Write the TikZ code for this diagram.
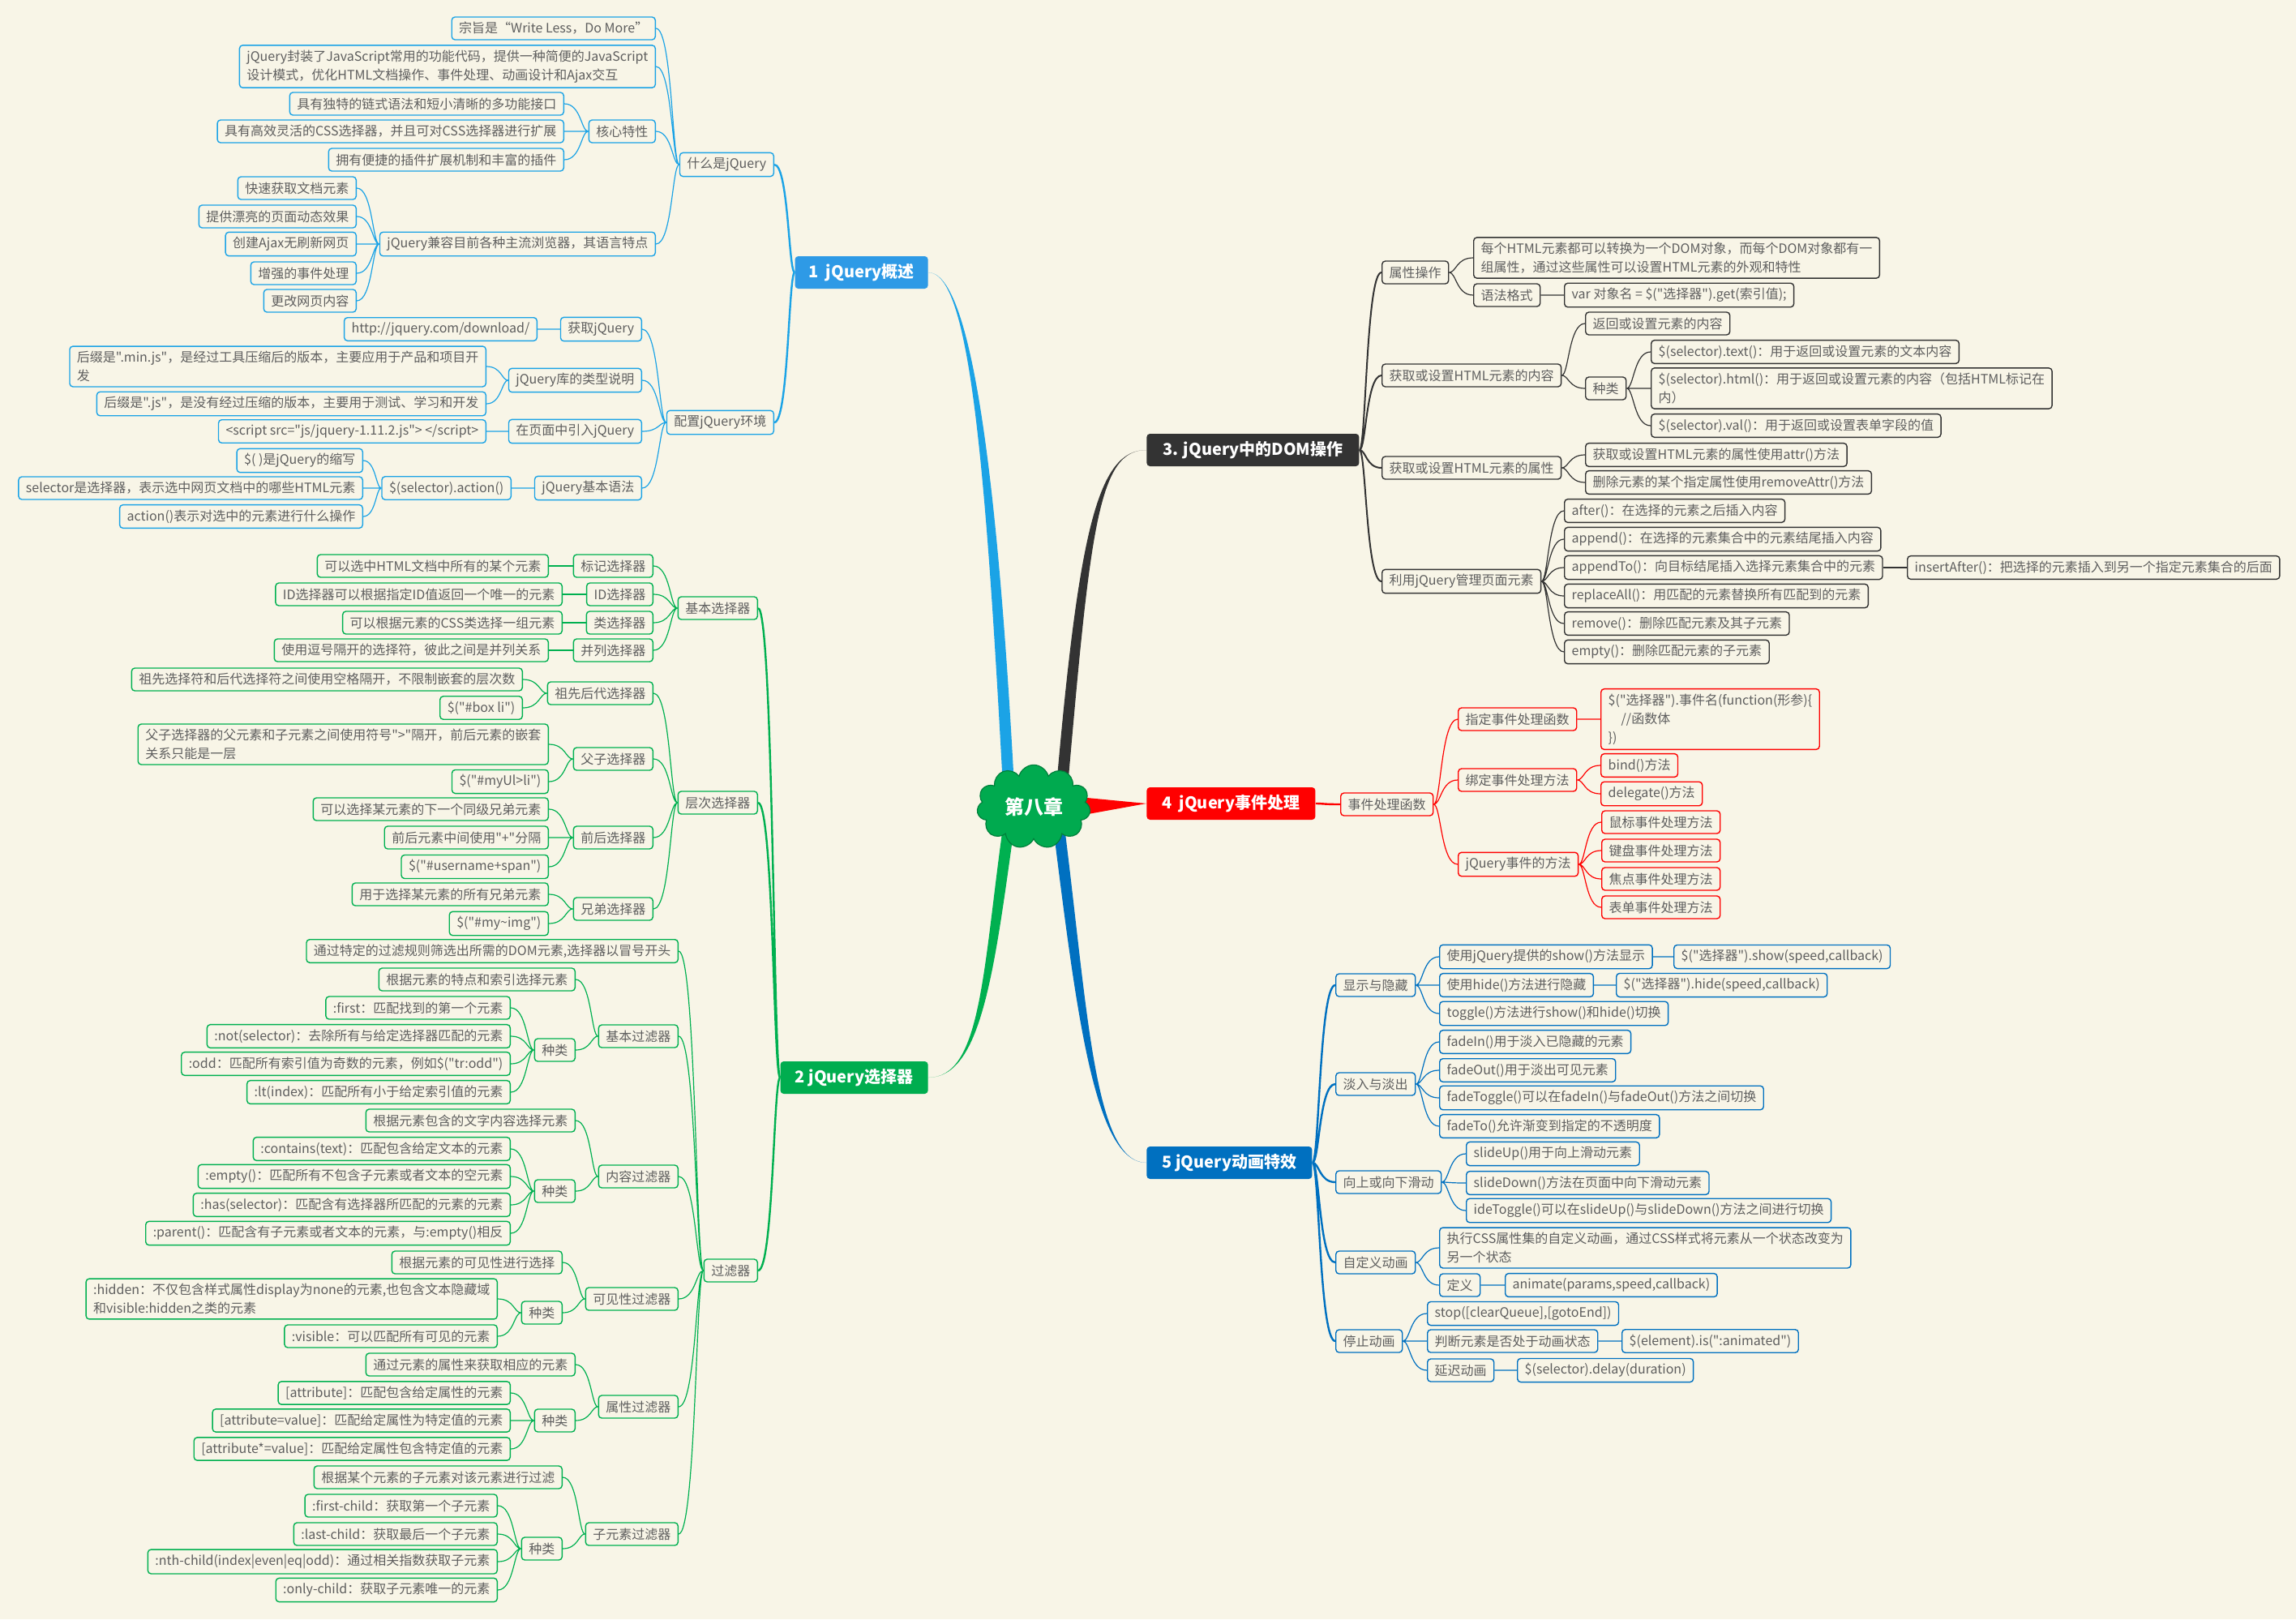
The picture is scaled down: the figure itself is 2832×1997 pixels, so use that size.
\documentclass[tikz,border=0pt]{standalone}
\usepackage{fontspec}
\setmainfont{Noto Sans CJK SC}[Ligatures=TeXOff]
\usepackage{tikz}
\usetikzlibrary{calc,shapes.symbols}

\definecolor{bg}{HTML}{F8F5E7}
\definecolor{txt}{HTML}{5E5E5E}
\definecolor{c1}{HTML}{1BA3E6}
\definecolor{f1}{HTML}{2E9AE6}
\definecolor{c2}{HTML}{00B050}
\definecolor{f2}{HTML}{00AD4F}
\definecolor{c3}{HTML}{333333}
\definecolor{c4}{HTML}{FF0000}
\definecolor{c5}{HTML}{0070C0}
\definecolor{cr}{HTML}{00AA4F}

\begin{document}
\begin{tikzpicture}[x=0.5pt, y=-0.5pt,
    leaf/.style={draw, rounded corners=2pt, line width=0.7pt, text=txt,
        font=\fontsize{8}{11.5}\selectfont, align=left,
        inner xsep=4.5pt, inner ysep=3pt, minimum height=14pt},
    l1/.style={leaf, draw=c1}, l2/.style={leaf, draw=c2}, l3/.style={leaf, draw=c3},
    l4/.style={leaf, draw=c4}, l5/.style={leaf, draw=c5},
    topic/.style={rounded corners=2pt, text=white, font=\fontsize{10}{12}\selectfont\bfseries,
        minimum height=20pt, inner xsep=6pt},
    link/.style={to path={let \p1=(\tikztostart), \p2=(\tikztotarget) in
        .. controls ({\x1+0.3*(\x2-\x1)},\y1) and ({\x1+0.3*(\x2-\x1)},\y2) .. (\tikztotarget)}},
    k1/.style={link, draw=c1, line width=0.6pt}, kk1/.style={k1, line width=1.2pt},
    k2/.style={link, draw=c2, line width=0.6pt}, kk2/.style={k2, line width=1.2pt},
    k3/.style={link, draw=c3, line width=0.6pt}, kk3/.style={k3, line width=1pt},
    k4/.style={link, draw=c4, line width=0.6pt}, kk4/.style={k4, line width=1.2pt},
    k5/.style={link, draw=c5, line width=0.6pt}, kk5/.style={k5, line width=1.2pt}]

    \fill[bg] (0,0) rectangle (2832,1997);
    \useasboundingbox (0,0) rectangle (2832,1997);

    % main topics
    \coordinate (rc) at (1275,995);
    \node[topic, fill=f1, anchor=east, minimum width=82pt] (m1) at (1145,336) {1\ \ jQuery概述};
    \node[topic, fill=f2, anchor=east, minimum width=91pt] (m2) at (1145,1329) {2 jQuery选择器};
    \node[topic, fill=c3, anchor=west, minimum width=131pt] (m3) at (1414,555) {3. jQuery中的DOM操作};
    \node[topic, fill=c4, anchor=west, minimum width=104pt] (m4) at (1414,991) {4\ \ jQuery事件处理};
    \node[topic, fill=c5, anchor=west, minimum width=102pt] (m5) at (1414,1434) {5 jQuery动画特效};

    % 1 jQuery概述
    \node[l1, anchor=east] (a1) at (955,203) {什么是jQuery};
    \node[l1, anchor=east] (a11) at (809,35) {宗旨是“Write Less，Do More”};
    \node[l1, anchor=east] (a12) at (809,82) {jQuery封装了JavaScript常用的功能代码，提供一种简便的JavaScript\\设计模式，优化HTML文档操作、事件处理、动画设计和Ajax交互};
    \node[l1, anchor=east] (a13) at (809,162) {核心特性};
    \node[l1, anchor=east] (a131) at (696,128) {具有独特的链式语法和短小清晰的多功能接口};
    \node[l1, anchor=east] (a132) at (696,162) {具有高效灵活的CSS选择器，并且可对CSS选择器进行扩展};
    \node[l1, anchor=east] (a133) at (696,197) {拥有便捷的插件扩展机制和丰富的插件};
    \node[l1, anchor=east] (a14) at (809,301) {jQuery兼容目前各种主流浏览器，其语言特点};
    \node[l1, anchor=east] (a141) at (440,232) {快速获取文档元素};
    \node[l1, anchor=east] (a142) at (440,267) {提供漂亮的页面动态效果};
    \node[l1, anchor=east] (a143) at (440,301) {创建Ajax无刷新网页};
    \node[l1, anchor=east] (a144) at (440,337) {增强的事件处理};
    \node[l1, anchor=east] (a145) at (440,371) {更改网页内容};

    \node[l1, anchor=east] (b1) at (955,521) {配置jQuery环境};
    \node[l1, anchor=east] (b11) at (792,406) {获取jQuery};
    \node[l1, anchor=east] (b111) at (663,406) {http://jquery.com/download/};
    \node[l1, anchor=east] (b12) at (792,469) {jQuery库的类型说明};
    \node[l1, anchor=east] (b121) at (600,452) {后缀是".min.js"，是经过工具压缩后的版本，主要应用于产品和项目开\\发};
    \node[l1, anchor=east] (b122) at (600,498) {后缀是".js"，是没有经过压缩的版本，主要用于测试、学习和开发};
    \node[l1, anchor=east] (b13) at (792,532) {在页面中引入jQuery};
    \node[l1, anchor=east] (b131) at (600,532) {<script src="js/jquery-1.11.2.js"> </script>};
    \node[l1, anchor=east] (b14) at (792,602) {jQuery基本语法};
    \node[l1, anchor=east] (b141) at (631,602) {\$(selector).action()};
    \node[l1, anchor=east] (b1411) at (448,568) {\$( )是jQuery的缩写};
    \node[l1, anchor=east] (b1412) at (448,602) {selector是选择器，表示选中网页文档中的哪些HTML元素};
    \node[l1, anchor=east] (b1413) at (448,637) {action()表示对选中的元素进行什么操作};

    % 2 jQuery选择器
    \node[l2, anchor=east] (s1) at (935,750) {基本选择器};
    \node[l2, anchor=east] (s11) at (806,698) {标记选择器};
    \node[l2, anchor=east] (s111) at (677,698) {可以选中HTML文档中所有的某个元素};
    \node[l2, anchor=east] (s12) at (806,733) {ID选择器};
    \node[l2, anchor=east] (s121) at (694,733) {ID选择器可以根据指定ID值返回一个唯一的元素};
    \node[l2, anchor=east] (s13) at (806,768) {类选择器};
    \node[l2, anchor=east] (s131) at (694,768) {可以根据元素的CSS类选择一组元素};
    \node[l2, anchor=east] (s14) at (806,802) {并列选择器};
    \node[l2, anchor=east] (s141) at (677,802) {使用逗号隔开的选择符，彼此之间是并列关系};

    \node[l2, anchor=east] (s2) at (935,990) {层次选择器};
    \node[l2, anchor=east] (s21) at (806,855) {祖先后代选择器};
    \node[l2, anchor=east] (s211) at (645,838) {祖先选择符和后代选择符之间使用空格隔开，不限制嵌套的层次数};
    \node[l2, anchor=east] (s212) at (645,873) {\$("\#box li")};
    \node[l2, anchor=east] (s22) at (806,936) {父子选择器};
    \node[l2, anchor=east] (s221) at (677,918) {父子选择器的父元素和子元素之间使用符号">"隔开，前后元素的嵌套\\关系只能是一层};
    \node[l2, anchor=east] (s222) at (677,964) {\$("\#myUl>li")};
    \node[l2, anchor=east] (s23) at (806,1033) {前后选择器};
    \node[l2, anchor=east] (s231) at (677,998) {可以选择某元素的下一个同级兄弟元素};
    \node[l2, anchor=east] (s232) at (677,1033) {前后元素中间使用"+"分隔};
    \node[l2, anchor=east] (s233) at (677,1069) {\$("\#username+span")};
    \node[l2, anchor=east] (s24) at (806,1121) {兄弟选择器};
    \node[l2, anchor=east] (s241) at (677,1103) {用于选择某元素的所有兄弟元素};
    \node[l2, anchor=east] (s242) at (677,1139) {\$("\#my\textasciitilde img")};

    \node[l2, anchor=east] (s3) at (935,1567) {过滤器};
    \node[l2, anchor=east] (s31) at (837,1173) {通过特定的过滤规则筛选出所需的DOM元素,选择器以冒号开头};
    \node[l2, anchor=east] (s32) at (837,1278) {基本过滤器};
    \node[l2, anchor=east] (s321) at (710,1208) {根据元素的特点和索引选择元素};
    \node[l2, anchor=east] (s322) at (710,1295) {种类};
    \node[l2, anchor=east] (s3221) at (630,1243) {:first：匹配找到的第一个元素};
    \node[l2, anchor=east] (s3222) at (630,1278) {:not(selector)：去除所有与给定选择器匹配的元素};
    \node[l2, anchor=east] (s3223) at (630,1312) {:odd：匹配所有索引值为奇数的元素，例如\$("tr:odd")};
    \node[l2, anchor=east] (s3224) at (630,1347) {:lt(index)：匹配所有小于给定索引值的元素};
    \node[l2, anchor=east] (s33) at (837,1451) {内容过滤器};
    \node[l2, anchor=east] (s331) at (710,1382) {根据元素包含的文字内容选择元素};
    \node[l2, anchor=east] (s332) at (710,1469) {种类};
    \node[l2, anchor=east] (s3321) at (630,1417) {:contains(text)：匹配包含给定文本的元素};
    \node[l2, anchor=east] (s3322) at (630,1451) {:empty()：匹配所有不包含子元素或者文本的空元素};
    \node[l2, anchor=east] (s3323) at (630,1486) {:has(selector)：匹配含有选择器所匹配的元素的元素};
    \node[l2, anchor=east] (s3324) at (630,1521) {:parent()：匹配含有子元素或者文本的元素，与:empty()相反};
    \node[l2, anchor=east] (s34) at (837,1602) {可见性过滤器};
    \node[l2, anchor=east] (s341) at (694,1557) {根据元素的可见性进行选择};
    \node[l2, anchor=east] (s342) at (694,1619) {种类};
    \node[l2, anchor=east] (s3421) at (614,1602) {:hidden：不仅包含样式属性display为none的元素,也包含文本隐藏域\\和visible:hidden之类的元素};
    \node[l2, anchor=east] (s3422) at (614,1648) {:visible：可以匹配所有可见的元素};
    \node[l2, anchor=east] (s35) at (837,1735) {属性过滤器};
    \node[l2, anchor=east] (s351) at (710,1683) {通过元素的属性来获取相应的元素};
    \node[l2, anchor=east] (s352) at (710,1752) {种类};
    \node[l2, anchor=east] (s3521) at (630,1718) {[attribute]：匹配包含给定属性的元素};
    \node[l2, anchor=east] (s3522) at (630,1752) {[attribute=value]：匹配给定属性为特定值的元素};
    \node[l2, anchor=east] (s3523) at (630,1787) {[attribute*=value]：匹配给定属性包含特定值的元素};
    \node[l2, anchor=east] (s36) at (837,1892) {子元素过滤器};
    \node[l2, anchor=east] (s361) at (694,1822) {根据某个元素的子元素对该元素进行过滤};
    \node[l2, anchor=east] (s362) at (694,1910) {种类};
    \node[l2, anchor=east] (s3621) at (614,1857) {:first-child：获取第一个子元素};
    \node[l2, anchor=east] (s3622) at (614,1892) {:last-child：获取最后一个子元素};
    \node[l2, anchor=east] (s3623) at (614,1926) {:nth-child(index|even|eq|odd)：通过相关指数获取子元素};
    \node[l2, anchor=east] (s3624) at (614,1961) {:only-child：获取子元素唯一的元素};

    % 3 DOM操作
    \node[l3, anchor=west] (d1) at (1704,336) {属性操作};
    \node[l3, anchor=west] (d11) at (1817,318) {每个HTML元素都可以转换为一个DOM对象，而每个DOM对象都有一\\组属性，通过这些属性可以设置HTML元素的外观和特性};
    \node[l3, anchor=west] (d12) at (1817,364) {语法格式};
    \node[l3, anchor=west] (d121) at (1929,364) {var 对象名 = \$("选择器").get(索引值);};
    \node[l3, anchor=west] (d2) at (1704,463) {获取或设置HTML元素的内容};
    \node[l3, anchor=west] (d21) at (1955,399) {返回或设置元素的内容};
    \node[l3, anchor=west] (d22) at (1955,479) {种类};
    \node[l3, anchor=west] (d221) at (2036,434) {\$(selector).text()：用于返回或设置元素的文本内容};
    \node[l3, anchor=west] (d222) at (2036,479) {\$(selector).html()：用于返回或设置元素的内容（包括HTML标记在\\内）};
    \node[l3, anchor=west] (d223) at (2036,525) {\$(selector).val()：用于返回或设置表单字段的值};
    \node[l3, anchor=west] (d3) at (1704,577) {获取或设置HTML元素的属性};
    \node[l3, anchor=west] (d31) at (1955,561) {获取或设置HTML元素的属性使用attr()方法};
    \node[l3, anchor=west] (d32) at (1955,595) {删除元素的某个指定属性使用removeAttr()方法};
    \node[l3, anchor=west] (d4) at (1704,717) {利用jQuery管理页面元素};
    \node[l3, anchor=west] (d41) at (1929,630) {after()：在选择的元素之后插入内容};
    \node[l3, anchor=west] (d42) at (1929,665) {append()：在选择的元素集合中的元素结尾插入内容};
    \node[l3, anchor=west] (d43) at (1929,700) {appendTo()：向目标结尾插入选择元素集合中的元素};
    \node[l3, anchor=west] (d431) at (2352,700) {insertAfter()：把选择的元素插入到另一个指定元素集合的后面};
    \node[l3, anchor=west] (d44) at (1929,735) {replaceAll()：用匹配的元素替换所有匹配到的元素};
    \node[l3, anchor=west] (d45) at (1929,769) {remove()：删除匹配元素及其子元素};
    \node[l3, anchor=west] (d46) at (1929,804) {empty()：删除匹配元素的子元素};

    % 4 事件处理
    \node[l4, anchor=west] (e1) at (1653,992) {事件处理函数};
    \node[l4, anchor=west] (e11) at (1798,887) {指定事件处理函数};
    \node[l4, anchor=west] (e111) at (1974,887) {\$("选择器").事件名(function(形参)\{\\\quad//函数体\\\})};
    \node[l4, anchor=west] (e12) at (1798,962) {绑定事件处理方法};
    \node[l4, anchor=west] (e121) at (1974,944) {bind()方法};
    \node[l4, anchor=west] (e122) at (1974,979) {delegate()方法};
    \node[l4, anchor=west] (e13) at (1798,1066) {jQuery事件的方法};
    \node[l4, anchor=west] (e131) at (1975,1014) {鼠标事件处理方法};
    \node[l4, anchor=west] (e132) at (1975,1049) {键盘事件处理方法};
    \node[l4, anchor=west] (e133) at (1975,1084) {焦点事件处理方法};
    \node[l4, anchor=west] (e134) at (1975,1119) {表单事件处理方法};

    % 5 动画特效
    \node[l5, anchor=west] (f1) at (1647,1215) {显示与隐藏};
    \node[l5, anchor=west] (f11) at (1775,1180) {使用jQuery提供的show()方法显示};
    \node[l5, anchor=west] (f111) at (2064,1180) {\$("选择器").show(speed,callback)};
    \node[l5, anchor=west] (f12) at (1775,1215) {使用hide()方法进行隐藏};
    \node[l5, anchor=west] (f121) at (1993,1215) {\$("选择器").hide(speed,callback)};
    \node[l5, anchor=west] (f13) at (1775,1250) {toggle()方法进行show()和hide()切换};
    \node[l5, anchor=west] (f2) at (1647,1337) {淡入与淡出};
    \node[l5, anchor=west] (f21) at (1775,1285) {fadeIn()用于淡入已隐藏的元素};
    \node[l5, anchor=west] (f22) at (1775,1320) {fadeOut()用于淡出可见元素};
    \node[l5, anchor=west] (f23) at (1775,1354) {fadeToggle()可以在fadeIn()与fadeOut()方法之间切换};
    \node[l5, anchor=west] (f24) at (1775,1389) {fadeTo()允许渐变到指定的不透明度};
    \node[l5, anchor=west] (f3) at (1647,1458) {向上或向下滑动};
    \node[l5, anchor=west] (f31) at (1808,1423) {slideUp()用于向上滑动元素};
    \node[l5, anchor=west] (f32) at (1808,1459) {slideDown()方法在页面中向下滑动元素};
    \node[l5, anchor=west] (f33) at (1808,1493) {ideToggle()可以在slideUp()与slideDown()方法之间进行切换};
    \node[l5, anchor=west] (f4) at (1647,1557) {自定义动画};
    \node[l5, anchor=west] (f41) at (1775,1539) {执行CSS属性集的自定义动画，通过CSS样式将元素从一个状态改变为\\另一个状态};
    \node[l5, anchor=west] (f42) at (1775,1585) {定义};
    \node[l5, anchor=west] (f421) at (1856,1585) {animate(params,speed,callback)};
    \node[l5, anchor=west] (f5) at (1647,1654) {停止动画};
    \node[l5, anchor=west] (f51) at (1760,1620) {stop([clearQueue],[gotoEnd])};
    \node[l5, anchor=west] (f52) at (1760,1654) {判断元素是否处于动画状态};
    \node[l5, anchor=west] (f521) at (2000,1654) {\$(element).is(":animated")};
    \node[l5, anchor=west] (f53) at (1760,1690) {延迟动画};
    \node[l5, anchor=west] (f531) at (1871,1690) {\$(selector).delay(duration)};

    % connectors, branch 1
    \draw[kk1] (m1.west) to (a1.east) (m1.west) to (b1.east);
    \draw[k1] (a1.west) to (a11.east) (a1.west) to (a12.east) (a1.west) to (a13.east) (a1.west) to (a14.east);
    \draw[k1] (a13.west) to (a131.east) (a13.west) to (a132.east) (a13.west) to (a133.east);
    \draw[k1] (a14.west) to (a141.east) (a14.west) to (a142.east) (a14.west) to (a143.east)
        (a14.west) to (a144.east) (a14.west) to (a145.east);
    \draw[k1] (b1.west) to (b11.east) (b1.west) to (b12.east) (b1.west) to (b13.east) (b1.west) to (b14.east);
    \draw[k1] (b11.west) to (b111.east) (b12.west) to (b121.east) (b12.west) to (b122.east)
        (b13.west) to (b131.east) (b14.west) to (b141.east);
    \draw[k1] (b141.west) to (b1411.east) (b141.west) to (b1412.east) (b141.west) to (b1413.east);

    % connectors, branch 2
    \draw[kk2] (m2.west) to (s1.east) (m2.west) to (s2.east) (m2.west) to (s3.east);
    \draw[k2] (s1.west) to (s11.east) (s1.west) to (s12.east) (s1.west) to (s13.east) (s1.west) to (s14.east);
    \draw[k2] (s11.west) to (s111.east) (s12.west) to (s121.east) (s13.west) to (s131.east) (s14.west) to (s141.east);
    \draw[k2] (s2.west) to (s21.east) (s2.west) to (s22.east) (s2.west) to (s23.east) (s2.west) to (s24.east);
    \draw[k2] (s21.west) to (s211.east) (s21.west) to (s212.east) (s22.west) to (s221.east) (s22.west) to (s222.east);
    \draw[k2] (s23.west) to (s231.east) (s23.west) to (s232.east) (s23.west) to (s233.east)
        (s24.west) to (s241.east) (s24.west) to (s242.east);
    \draw[k2] (s3.west) to (s31.east) (s3.west) to (s32.east) (s3.west) to (s33.east)
        (s3.west) to (s34.east) (s3.west) to (s35.east) (s3.west) to (s36.east);
    \draw[k2] (s32.west) to (s321.east) (s32.west) to (s322.east);
    \draw[k2] (s322.west) to (s3221.east) (s322.west) to (s3222.east) (s322.west) to (s3223.east) (s322.west) to (s3224.east);
    \draw[k2] (s33.west) to (s331.east) (s33.west) to (s332.east);
    \draw[k2] (s332.west) to (s3321.east) (s332.west) to (s3322.east) (s332.west) to (s3323.east) (s332.west) to (s3324.east);
    \draw[k2] (s34.west) to (s341.east) (s34.west) to (s342.east);
    \draw[k2] (s342.west) to (s3421.east) (s342.west) to (s3422.east);
    \draw[k2] (s35.west) to (s351.east) (s35.west) to (s352.east);
    \draw[k2] (s352.west) to (s3521.east) (s352.west) to (s3522.east) (s352.west) to (s3523.east);
    \draw[k2] (s36.west) to (s361.east) (s36.west) to (s362.east);
    \draw[k2] (s362.west) to (s3621.east) (s362.west) to (s3622.east) (s362.west) to (s3623.east) (s362.west) to (s3624.east);

    % connectors, branch 3
    \draw[kk3] (m3.east) to (d1.west) (m3.east) to (d2.west) (m3.east) to (d3.west) (m3.east) to (d4.west);
    \draw[k3] (d1.east) to (d11.west) (d1.east) to (d12.west) (d12.east) to (d121.west);
    \draw[k3] (d2.east) to (d21.west) (d2.east) to (d22.west);
    \draw[k3] (d22.east) to (d221.west) (d22.east) to (d222.west) (d22.east) to (d223.west);
    \draw[k3] (d3.east) to (d31.west) (d3.east) to (d32.west);
    \draw[k3] (d4.east) to (d41.west) (d4.east) to (d42.west) (d4.east) to (d43.west)
        (d4.east) to (d44.west) (d4.east) to (d45.west) (d4.east) to (d46.west);
    \draw[k3] (d43.east) to (d431.west);

    % connectors, branch 4
    \draw[kk4] (m4.east) to (e1.west);
    \draw[k4] (e1.east) to (e11.west) (e1.east) to (e12.west) (e1.east) to (e13.west);
    \draw[k4] (e11.east) to (e111.west) (e12.east) to (e121.west) (e12.east) to (e122.west);
    \draw[k4] (e13.east) to (e131.west) (e13.east) to (e132.west) (e13.east) to (e133.west) (e13.east) to (e134.west);

    % connectors, branch 5
    \draw[kk5] (m5.east) to (f1.west) (m5.east) to (f2.west) (m5.east) to (f3.west)
        (m5.east) to (f4.west) (m5.east) to (f5.west);
    \draw[k5] (f1.east) to (f11.west) (f1.east) to (f12.west) (f1.east) to (f13.west)
        (f11.east) to (f111.west) (f12.east) to (f121.west);
    \draw[k5] (f2.east) to (f21.west) (f2.east) to (f22.west) (f2.east) to (f23.west) (f2.east) to (f24.west);
    \draw[k5] (f3.east) to (f31.west) (f3.east) to (f32.west) (f3.east) to (f33.west);
    \draw[k5] (f4.east) to (f41.west) (f4.east) to (f42.west) (f42.east) to (f421.west);
    \draw[k5] (f5.east) to (f51.west) (f5.east) to (f52.west) (f5.east) to (f53.west)
        (f52.east) to (f521.west) (f53.east) to (f531.west);

    % tapered trunks from the centre
    \fill[c1] ($(rc)+(-38,-25)$) .. controls (1215,560) and ($(m1.east)+(50,0)$) .. (m1.east)
        .. controls ($(m1.east)+(50,0)$) and (1229,560) .. ($(rc)+(-24,-25)$) -- cycle;
    \fill[c3] ($(rc)+(28,-25)$) .. controls (1331,650) and ($(m3.west)+(-59,0)$) .. (m3.west)
        .. controls ($(m3.west)+(-59,0)$) and (1345,650) .. ($(rc)+(42,-25)$) -- cycle;
    \fill[c2] ($(rc)+(-38,25)$) .. controls (1212,1200) and ($(m2.east)+(65,0)$) .. (m2.east)
        .. controls ($(m2.east)+(65,0)$) and (1226,1200) .. ($(rc)+(-24,25)$) -- cycle;
    \fill[c5] ($(rc)+(24,25)$) .. controls (1328,1250) and ($(m5.west)+(-64,0)$) .. (m5.west)
        .. controls ($(m5.west)+(-64,0)$) and (1342,1250) .. ($(rc)+(38,25)$) -- cycle;
    \fill[c4] ($(rc)+(45,-13)$) -- (m4.west) -- ($(rc)+(45,13)$) -- cycle;

    \node[cloud, cloud puffs=11, aspect=1.5, fill=cr, draw=cr!75!black, line width=0.6pt,
        minimum width=70pt, minimum height=48pt, text=white,
        font=\fontsize{12}{14}\selectfont\bfseries] (root) at (rc) {第八章};
\end{tikzpicture}
\end{document}
